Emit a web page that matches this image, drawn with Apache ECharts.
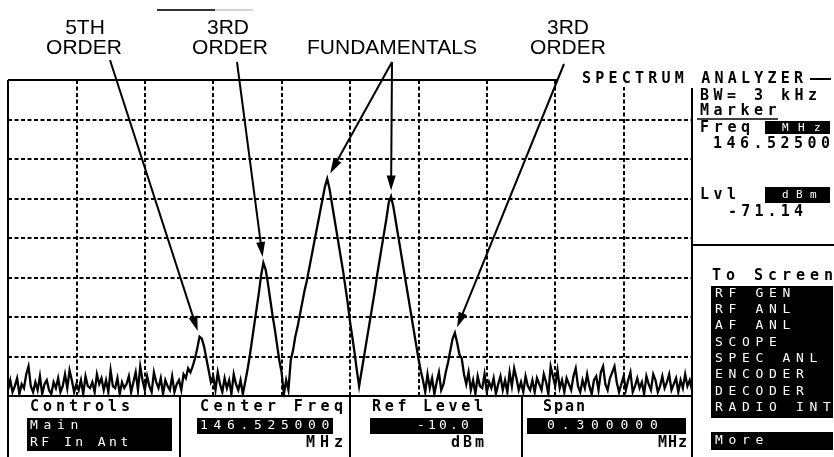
<!DOCTYPE html>
<html><head><meta charset="utf-8">
<script src="https://cdn.jsdelivr.net/npm/echarts@6/dist/echarts.min.js"></script>
<style>html,body{margin:0;padding:0;background:#fff}#c{width:834px;height:457px}</style>
</head><body><div id="c"></div>
<script>
// ---------------- data ----------------
const centerFreqMHz = 146.525;
const spanMHz = 0.3;
const refLevelDbm = -10;
const dbPerDiv = 10;
const rbwKHz = 3;
const stepKHz = 1;            // trace point spacing
// trace level (dBm), one value per kHz from the left edge (146.375 MHz) to the right edge (146.675 MHz)
const levelsDbm = [
 -88.5,-86.0,-89.0,-87.5,-85.5,-89.5,-87.0,-88.0,-84.5,-82.5,
 -87.5,-89.0,-86.5,-88.5,-85.0,-89.5,-87.0,-86.0,-88.5,-89.5,
 -86.5,-88.0,-85.5,-89.0,-87.5,-84.5,-88.0,-83.5,-86.0,-89.0,
 -87.0,-88.5,-86.0,-89.5,-85.0,-87.5,-88.0,-86.5,-89.0,-84.5,
 -87.0,-85.5,-88.5,-86.0,-89.0,-83.5,-87.5,-88.0,-85.5,-89.5,
 -86.5,-88.0,-87.0,-85.0,-89.0,-86.5,-84.0,-88.5,-82.5,-86.0,
 -88.5,-85.0,-87.5,-89.0,-84.0,-86.5,-88.0,-85.5,-89.5,-86.0,
 -87.5,-88.5,-85.0,-89.0,-87.0,-86.0,-88.5,-84.5,-85.5,-83.0,
 -84.0,-82.5,-80.5,-78.0,-75.0,-75.5,-77.5,-80.5,-83.5,-86.5,
 -85.0,-88.5,-84.0,-87.0,-89.0,-85.5,-88.0,-86.0,-89.5,-84.5,
 -87.0,-88.5,-86.0,-89.5,-86.5,-83.5,-80.0,-76.0,-72.0,-68.0,
 -64.0,-59.5,-56.3,-58.0,-61.5,-65.5,-69.5,-73.0,-77.0,-81.0,
 -84.0,-89.5,-86.0,-88.5,-81.0,-78.5,-75.0,-72.5,-69.5,-66.5,
 -63.5,-61.0,-58.0,-55.0,-52.0,-49.0,-46.0,-43.0,-40.0,-37.0,
 -35.0,-37.5,-41.0,-44.5,-48.0,-51.5,-55.0,-58.5,-62.5,-66.5,
 -71.14,-75.0,-79.0,-83.5,-87.5,-84.0,-80.5,-77.0,-73.5,-70.0,
 -66.5,-63.0,-59.0,-55.5,-52.0,-48.5,-45.0,-41.0,-39.5,-42.0,
 -45.5,-49.0,-52.5,-56.0,-59.5,-63.0,-66.5,-70.0,-73.5,-77.0,
 -80.5,-83.5,-86.0,-89.0,-84.5,-88.0,-85.5,-89.5,-86.5,-84.0,
 -88.5,-87.0,-84.0,-81.5,-78.5,-75.5,-74.0,-76.5,-79.5,-80.5,
 -84.5,-87.0,-84.0,-88.5,-86.0,-89.5,-85.0,-87.5,-88.0,-84.5,
 -89.0,-86.5,-88.0,-85.5,-89.5,-87.0,-85.0,-88.5,-86.0,-89.0,
 -84.0,-87.5,-83.0,-85.5,-88.5,-86.5,-89.0,-85.0,-87.5,-88.5,
 -86.0,-89.0,-85.5,-87.0,-88.5,-84.5,-86.5,-89.5,-82.5,-85.0,
 -87.5,-83.5,-88.0,-86.0,-89.0,-85.5,-87.0,-88.5,-85.0,-83.0,
 -87.5,-89.0,-86.0,-88.0,-84.5,-87.5,-89.5,-86.0,-85.0,-88.5,
 -84.0,-82.5,-87.0,-88.5,-85.5,-84.0,-82.5,-86.5,-89.0,-87.0,
 -85.0,-88.5,-86.0,-84.0,-89.0,-87.5,-85.5,-88.0,-86.5,-89.5,
 -85.0,-87.0,-88.5,-84.5,-86.0,-89.0,-87.5,-85.0,-88.0,-86.5,
 -84.5,-88.5,-87.0,-85.5,-89.0,-86.0,-88.0,-84.5,-87.5,-86.0,
 -88.5
];
const markerIndex = 150;      // marker at the centre frequency
// annotation texts and the trace points (indices into levelsDbm) they point at
const annotationLines = [['5TH','ORDER'], ['3RD','ORDER'], ['FUNDAMENTALS'], ['3RD','ORDER']];
const annotationPeaks = [[84], [112], [140, 168], [196]];
// instrument panel texts
const menuItems = ['RF GEN','RF ANL','AF ANL','SCOPE','SPEC ANL','ENCODER','DECODER','RADIO INT'];
const controlsItems = ['Main','RF In Ant'];

// ---------------- chart ----------------
const spanKHz = spanMHz * 1000;
const traceData = levelsDbm.map((v, i) => [-spanKHz / 2 + i * stepKHz, v]);
const chart = echarts.init(document.getElementById('c'), null, {renderer: 'canvas'});
const dotted = {show: true, showMinLine: false, showMaxLine: false,
  lineStyle: {color: '#000', width: 2, type: [4, 2.5]}};
chart.setOption({
  animation: false,
  backgroundColor: '#fff',
  grid: {left: 8, right: 142, top: 80, bottom: 61, containLabel: false},
  xAxis: {type: 'value', min: -spanKHz / 2, max: spanKHz / 2, interval: spanKHz / 10,
    axisLine: {show: false}, axisTick: {show: false}, axisLabel: {show: false}, splitLine: dotted},
  yAxis: {type: 'value', min: refLevelDbm - 8 * dbPerDiv, max: refLevelDbm, interval: dbPerDiv,
    axisLine: {show: false}, axisTick: {show: false}, axisLabel: {show: false}, splitLine: dotted},
  series: [{type: 'line', data: traceData, showSymbol: false, symbol: 'none',
    lineStyle: {color: '#000', width: 2.3, join: 'miter'}, z: 5, clip: true}]
});

// ---------------- panel / annotations ----------------
const G = [];
const BOLD = 'bold 15px "DejaVu Sans Mono"';
const THIN = '13px "DejaVu Sans Mono"';
const SMALL = '11px "DejaVu Sans Mono"';
function line(x1, y1, x2, y2, w, c) {
  G.push({type: 'line', z: 60, shape: {x1, y1, x2, y2}, style: {stroke: c || '#000', lineWidth: w || 2}});
}
function box(x, y, w, h, c, z) {
  G.push({type: 'rect', z: z || 55, shape: {x, y, width: w, height: h}, style: {fill: c || '#000'}});
}
function chars(str, x0, cy, adv, font, fill) {
  for (let k = 0; k < str.length; k++) {
    const ch = str[k];
    if (ch === ' ') continue;
    G.push({type: 'text', z: 70, x: x0 + k * adv, y: cy,
      style: {text: ch, font: font, fill: fill || '#000', align: 'left', verticalAlign: 'middle',
              textAlign: 'left', textVerticalAlign: 'middle'}});
  }
}
function label(str, cx, cy) {
  G.push({type: 'text', z: 70, x: cx, y: cy,
    style: {text: str, font: '21px "Liberation Sans"', fill: '#000', align: 'center', verticalAlign: 'middle',
            textAlign: 'center', textVerticalAlign: 'middle'}});
}

// frame
box(566, 70, 268, 17, '#fff', 50);
line(8, 80, 557, 80);
line(8, 80, 8, 457);
line(692, 88, 692, 457);
line(8, 396, 692, 396);
line(810, 79, 831, 79);
line(692, 245, 834, 245);
[180, 350, 522].forEach(x => line(x, 396, x, 457));
line(157, 10, 215, 10, 2, '#333');
line(215, 10, 253, 10, 1, '#aaa');

// right panel
chars('SPECTRUM ANALYZER', 582, 79, 13.25, BOLD);
chars('BW= ' + rbwKHz + ' kHz', 700, 96, 13.5, BOLD);
chars('Marker', 700, 111, 13.5, BOLD);
line(697, 119, 778, 119, 1.5);
chars('Freq', 700, 128, 13.7, BOLD);
box(765, 121, 65, 13);
chars('MHz', 782, 128, 16, SMALL, '#fff');
chars(centerFreqMHz.toFixed(5), 713, 144, 13.5, BOLD);
chars('Lvl', 700, 195, 13.5, BOLD);
box(765, 187, 65, 16);
chars('dBm', 782, 195, 14, SMALL, '#fff');
chars(levelsDbm[markerIndex].toFixed(2), 728, 212, 13.2, BOLD);
chars('To Screen', 712, 276, 14, BOLD);
box(711, 286, 122, 132);
menuItems.forEach((s, i) => chars(s, 715, 293.5 + i * 16.3, 13.5, THIN, '#fff'));
box(711, 432, 122, 18);
chars('More', 715, 441, 13.5, THIN, '#fff');

// bottom panel
chars('Controls', 30, 407, 13, BOLD);
box(27, 418, 145, 33);
chars(controlsItems[0], 30, 426, 13.5, THIN, '#fff');
chars(controlsItems[1], 30, 442.5, 11.3, THIN, '#fff');
chars('Center Freq', 200, 407, 13.4, BOLD);
box(197, 418, 136, 16);
chars(centerFreqMHz.toFixed(6), 200, 426, 13.5, THIN, '#fff');
chars('MHz', 306, 443, 14, BOLD);
chars('Ref Level', 372, 407, 12.75, BOLD);
box(370, 418, 113, 16);
chars(refLevelDbm.toFixed(1), 417, 426, 11, THIN, '#fff');
chars('dBm', 451, 443, 12, BOLD);
chars('Span', 543, 407, 11, BOLD);
box(527, 418, 159, 16);
chars(spanMHz.toFixed(6), 547, 426, 14.7, THIN, '#fff');
chars('MHz', 658, 443, 10, BOLD);

// annotation labels (layout)
const labelLayout = [
  {cx: [85, 84], cy: [28.5, 48], start: [110, 60]},
  {cx: [228, 230], cy: [28.5, 48], start: [237, 62]},
  {cx: [392], cy: [48], start: [392, 62]},
  {cx: [568, 568], cy: [28.5, 48], start: [564, 64]}
];
annotationLines.forEach((lines, a) => {
  const L = labelLayout[a];
  lines.forEach((s, j) => label(s, L.cx[j], L.cy[j]));
  annotationPeaks[a].forEach(idx => {
    const p = chart.convertToPixel({gridIndex: 0}, traceData[idx]);
    const S = L.start;
    const dx = S[0] - p[0], dy = S[1] - p[1];
    const len = Math.hypot(dx, dy);
    const ux = dx / len, uy = dy / len;
    const gap = 6, head = 15, hw = 4.5;
    const tx = p[0] + ux * gap, ty = p[1] + uy * gap;
    const bx = tx + ux * head, by = ty + uy * head;
    line(S[0], S[1], tx + ux * (head - 3), ty + uy * (head - 3), 2);
    G.push({type: 'polygon', z: 60, shape: {points: [[tx, ty], [bx - uy * hw, by + ux * hw], [bx + uy * hw, by - ux * hw]]},
      style: {fill: '#000'}});
  });
});

chart.setOption({graphic: {elements: G}});
</script>
</body></html>
